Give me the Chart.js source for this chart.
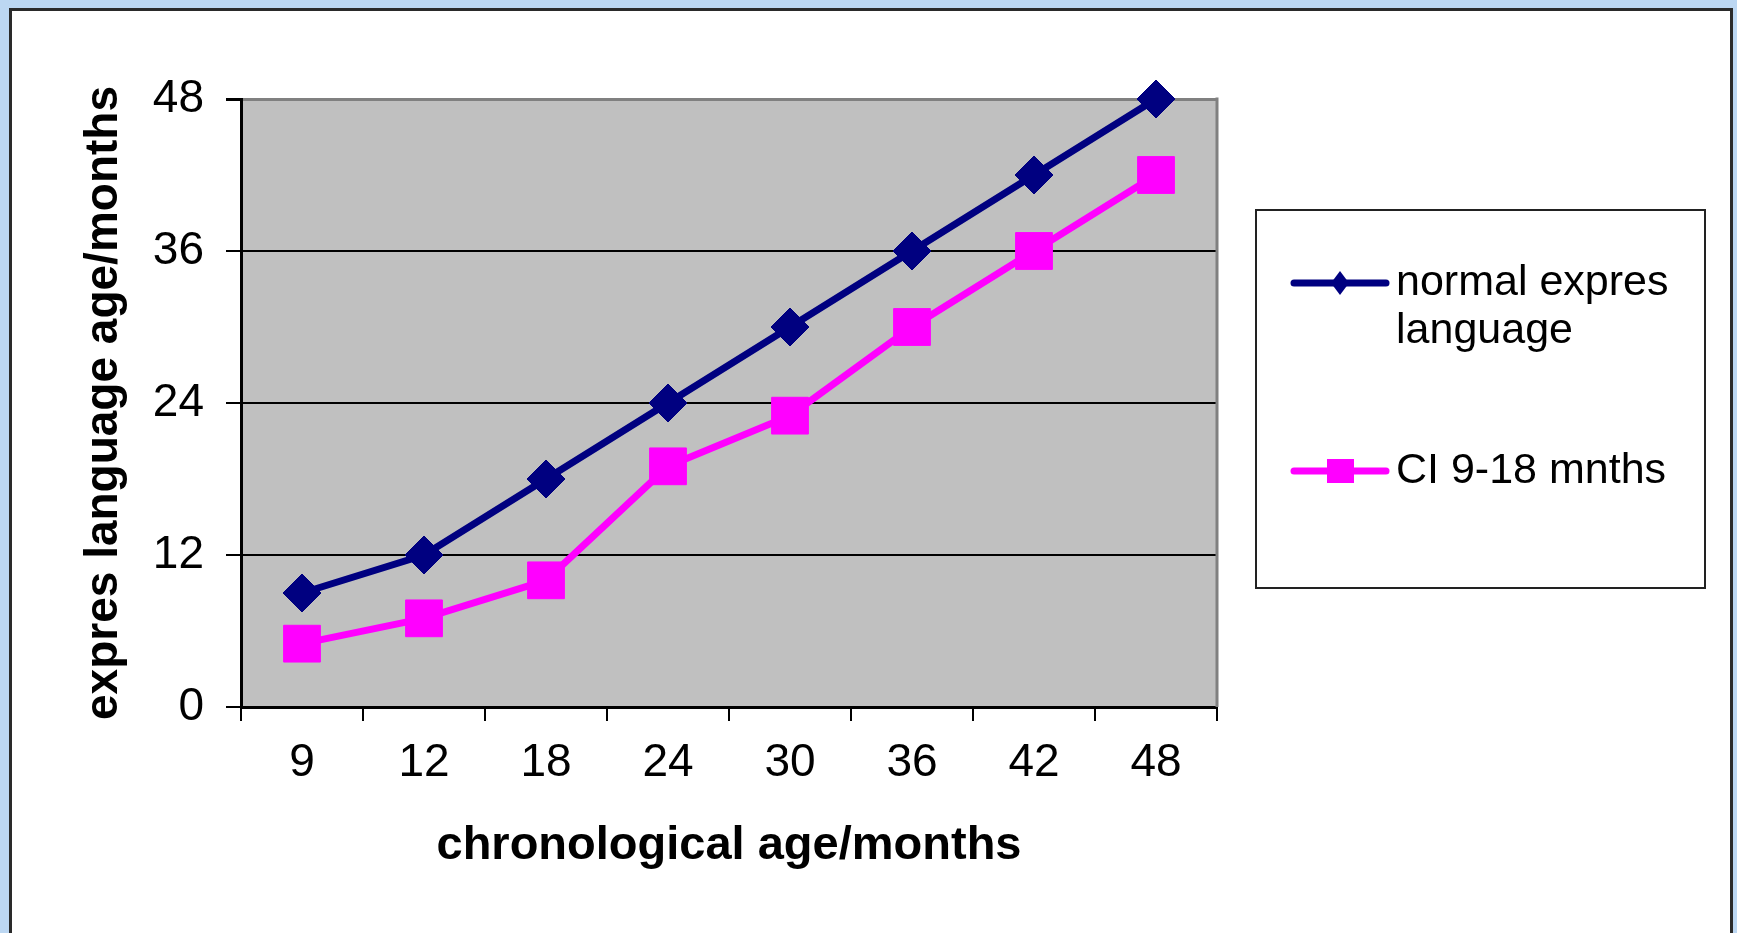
<!DOCTYPE html>
<html>
<head>
<meta charset="utf-8">
<script src="https://cdn.jsdelivr.net/npm/chart.js@4/dist/chart.umd.min.js"></script>
<style>
  html, body { margin: 0; padding: 0; }
  body { width: 1737px; height: 933px; background: #bcd7f2; position: relative; overflow: hidden; }
  #panel { position: absolute; left: 9px; top: 8px; width: 1718px; height: 960px; background: #fff; border: 3px solid #2a2a2a; }
  #chart { position: absolute; left: 0; top: 0; }
</style>
</head>
<body>
<div id="panel"></div>
<canvas id="chart" width="1737" height="933"></canvas>
<script>
const ageLabels = ["9", "12", "18", "24", "30", "36", "42", "48"];
const normalExpres = [9, 12, 18, 24, 30, 36, 42, 48];
const ciExpres = [5, 7, 10, 19, 23, 30, 36, 42];
const legendNames = [["normal expres", "language"], ["CI 9-18 mnths"]];

const FONT = "'Liberation Sans', Arial, sans-serif";

// grey plot area
const plotBg = {
    id: "plotBg",
    beforeDraw(chart) {
        const { ctx, chartArea: a } = chart;
        ctx.save();
        ctx.fillStyle = "#c0c0c0";
        ctx.fillRect(a.left, a.top, a.right - a.left, a.bottom - a.top);
        ctx.restore();
    },
    beforeDatasetsDraw(chart) {
        const { ctx, chartArea: a } = chart;
        ctx.save();
        ctx.strokeStyle = "#808080";
        ctx.lineWidth = 3;
        ctx.beginPath();
        ctx.moveTo(a.right, a.top - 1.5);
        ctx.lineTo(a.right, a.bottom);
        ctx.stroke();
        ctx.restore();
    },
};

// legend box on the right
const boxLegend = {
    id: "boxLegend",
    afterDraw(chart) {
        const ctx = chart.ctx;
        const box = { x: 1256, y: 210, w: 449, h: 378 };
        ctx.save();
        ctx.fillStyle = "#fff";
        ctx.fillRect(box.x, box.y, box.w, box.h);
        ctx.strokeStyle = "#222";
        ctx.lineWidth = 2;
        ctx.strokeRect(box.x, box.y, box.w, box.h);

        const rowsY = [283, 471];
        chart.data.datasets.forEach((ds, i) => {
            const y = rowsY[i];
            ctx.strokeStyle = ds.borderColor;
            ctx.lineWidth = 7;
            ctx.lineCap = "round";
            ctx.beginPath();
            ctx.moveTo(1294, y);
            ctx.lineTo(1386, y);
            ctx.stroke();
            ctx.fillStyle = ds.borderColor;
            ctx.beginPath();
            if (ds.pointStyle === "rectRot") {
                ctx.moveTo(1340, y - 12);
                ctx.lineTo(1349, y);
                ctx.lineTo(1340, y + 12);
                ctx.lineTo(1331, y);
            } else {
                ctx.rect(1327, y - 12, 27, 24);
            }
            ctx.fill();

            ctx.fillStyle = "#000";
            ctx.font = "43px " + FONT;
            ctx.textBaseline = "middle";
            ctx.textAlign = "left";
            legendNames[i].forEach((t, k) => ctx.fillText(t, 1396, y + k * 48));
        });
        ctx.restore();
    },
};

new Chart(document.getElementById("chart"), {
    type: "line",
    data: {
        labels: ageLabels,
        datasets: [
            {
                label: "normal expres language",
                data: normalExpres,
                borderColor: "#000080",
                backgroundColor: "#000080",
                borderWidth: 7,
                pointStyle: "rectRot",
                pointRadius: 19,
                pointBorderWidth: 1,
                tension: 0,
                clip: false,
            },
            {
                label: "CI 9-18 mnths",
                data: ciExpres,
                borderColor: "#ff00ff",
                backgroundColor: "#ff00ff",
                borderWidth: 7,
                pointStyle: "rect",
                pointRadius: 26,
                pointBorderWidth: 1,
                tension: 0,
                clip: false,
            },
        ],
    },
    options: {
        responsive: false,
        animation: false,
        layout: { padding: { left: 77, top: 99, right: 520, bottom: 59 } },
        plugins: {
            legend: { display: false },
            tooltip: { enabled: false },
        },
        scales: {
            x: {
                offset: true,
                afterFit: (s) => { s.height = 167; },
                grid: {
                    offset: true,
                    drawOnChartArea: false,
                    color: "#000",
                    lineWidth: 2,
                    tickLength: 14,
                },
                border: { color: "#000", width: 3 },
                ticks: { color: "#000", font: { family: FONT, size: 46 }, padding: 15 },
                title: {
                    display: true,
                    text: "chronological age/months",
                    color: "#000",
                    font: { family: FONT, size: 47, weight: "bold" },
                    padding: 0,
                },
            },
            y: {
                min: 0,
                max: 48,
                afterFit: (s) => { s.width = 164; },
                ticks: { stepSize: 12, color: "#000", font: { family: FONT, size: 46 }, padding: 22 },
                grid: {
                    color: (c) => (c.tick && c.tick.value === 48 ? "#808080" : "#000"),
                    lineWidth: (c) => (c.tick && c.tick.value === 48 ? 3 : 2),
                    tickColor: "#000",
                    tickLength: 15,
                },
                border: { color: "#000", width: 3 },
                title: {
                    display: true,
                    text: "expres language age/months",
                    color: "#000",
                    font: { family: FONT, size: 46, weight: "bold" },
                    padding: 0,
                },
            },
        },
    },
    plugins: [plotBg, boxLegend],
});
</script>
</body>
</html>
